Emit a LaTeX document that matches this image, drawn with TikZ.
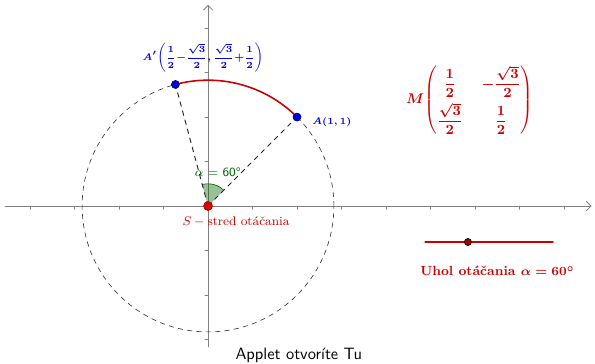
\documentclass[tikz,border=0pt]{standalone}
\usepackage{amsmath,amssymb}
\usepackage{fontspec}
\usetikzlibrary{arrows.meta,calc}
\definecolor{ggRed}{rgb}{0.8,0,0}
\definecolor{ggBlue}{rgb}{0,0,0.9}
\definecolor{ggGreen}{rgb}{0,0.39,0}
\definecolor{ggAxis}{gray}{0.5}
\begin{document}
\begin{tikzpicture}[x=2cm, y=2cm, line cap=round, line join=round]
% Rotation of the point A about S by the angle alpha
\providecommand{\rotRadius}{1.41421}
\providecommand{\rotAngle}{60}
\providecommand{\tickLen}{0.035}
\useasboundingbox (-2.337,-1.764) rectangle (4.348,2.315);
% Axes
\begin{scope}[draw=ggAxis, line width=0.5pt]
  \draw[-{Straight Barb[length=3pt]}] (-2.28,0) -- (4.31,0);
  \draw[-{Straight Barb[length=3pt]}] (0,-1.58) -- (0,2.26);
  % Ticks
  \foreach \t in {-2,-1.5,-1,-0.5,0.5,1,1.5,2,2.5,3,3.5,4}
    \draw (\t,0) -- (\t,-\tickLen);
  \foreach \t in {-1.5,-1,-0.5,0.5,1,1.5,2}
    \draw (0,\t) -- (-\tickLen,\t);
\end{scope}
% Points
\coordinate (S) at (0,0);
\coordinate (A) at (1,1);
\coordinate (Ap) at (45+\rotAngle:\rotRadius);
% Dashed circle through A
\draw[black!80, dashed, line width=0.4pt] (S) circle[radius=\rotRadius];
% Angle sector
\fill[ggGreen, fill opacity=0.4] (S) -- ($(S)+(45:0.25)$) arc[start angle=45, end angle=45+\rotAngle, radius=0.25] -- cycle;
\draw[ggGreen, line width=0.4pt] ($(S)+(45:0.25)$) arc[start angle=45, end angle=45+\rotAngle, radius=0.25];
% Radii
\draw[black!85, dashed, line width=0.6pt] (S) -- (A);
\draw[black!85, dashed, line width=0.6pt] (S) -- (Ap);
% Image of the arc
\draw[ggRed, line width=1pt] (Ap) arc[start angle=45+\rotAngle, end angle=45, radius=\rotRadius];
% Point markers
\begin{scope}[line width=0.4pt]
  \filldraw[fill=ggBlue, draw=black!60!ggBlue] (A) circle[radius=0.045];
  \filldraw[fill=ggBlue, draw=black!60!ggBlue] (Ap) circle[radius=0.045];
  \filldraw[fill=red!90!black, draw=black!50!red] (S) circle[radius=0.05];
\end{scope}
% Labels
\node[text=ggBlue, font=\fontsize{6.2}{8}\selectfont\boldmath, inner sep=0pt] (lblAp) at (-0.056,1.663)
  {$\displaystyle A'\!\left(\frac{1}{2}{-}\frac{\sqrt{3}}{2},\frac{\sqrt{3}}{2}{+}\frac{1}{2}\right)$};
\node[text=ggBlue, font=\fontsize{6}{7}\selectfont\boldmath, anchor=west, inner sep=0pt] (lblA) at (1.169,0.944) {$A(1,1)$};
\node[text=ggGreen, font=\footnotesize\sffamily, inner sep=0pt] (lblAlpha) at (0.11,0.38) {$\alpha$ = 60°};
\node[text=ggRed, font=\footnotesize, inner sep=0pt] (lblS) at (0.315,-0.18) {$S-{}$stred otáčania};
\node[text=ggRed, font=\small\boldmath, inner sep=0pt] (lblM) at (2.94,1.19)
  {\setlength{\arraycolsep}{6pt}$M\!\begin{pmatrix}\displaystyle\frac{1}{2} & \displaystyle-\frac{\sqrt{3}}{2}\\[6pt] \displaystyle\frac{\sqrt{3}}{2} & \displaystyle\frac{1}{2}\end{pmatrix}$};
% Slider
\coordinate (sl0) at (2.44,-0.404);
\coordinate (sl1) at (3.876,-0.404);
\coordinate (slP) at (2.92,-0.404);
\draw[ggRed, line width=1pt] (sl0) -- (sl1);
\filldraw[fill=ggRed!80!black, draw=black, line width=0.4pt] (slP) circle[radius=0.04];
\node[text=ggRed, font=\fontsize{8.5}{10}\selectfont\bfseries\boldmath, inner sep=0pt] (lblUhol) at (3.25,-0.73) {Uhol otáčania $\alpha = 60^\circ$};
\node[font=\fontsize{10.5}{12}\selectfont\sffamily, inner sep=0pt] (lblApplet) at (1.02,-1.674) {Applet otvoríte Tu};
\end{tikzpicture}
\end{document}
